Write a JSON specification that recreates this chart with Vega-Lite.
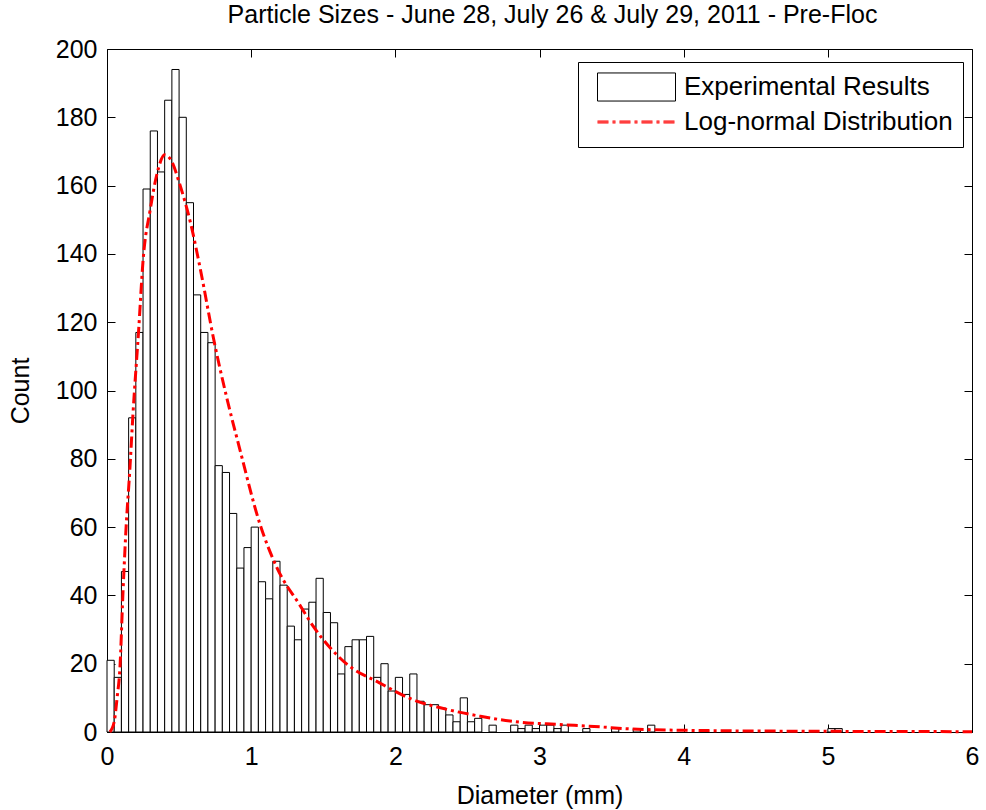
{
  "$schema": "https://vega.github.io/schema/vega-lite/v6.json",
  "width": 865,
  "height": 683,
  "autosize": {"type": "none"},
  "padding": {"left": 107, "top": 49, "right": 14, "bottom": 78},
  "background": "white",
  "title": {"text": "Particle Sizes - June 28, July 26 & July 29, 2011 - Pre-Floc", "fontSize": 25, "font": "Liberation Sans", "fontWeight": "normal", "color": "black", "offset": 9, "anchor": "middle", "dx": 13},
  "config": {
    "view": {"stroke": null},
    "font": "Liberation Sans",
    "axis": {"domainColor": "black", "domainWidth": 1, "tickColor": "black", "tickWidth": 1, "labelColor": "black", "titleColor": "black", "labelFontSize": 25, "titleFontSize": 25, "titleFontWeight": "normal", "grid": false, "tickSize": -8, "labelFont": "Liberation Sans", "titleFont": "Liberation Sans", "labelFlush": false, "labelOverlap": false},
    "legend": {
      "title": null,
      "orient": "none",
      "legendX": 471,
      "legendY": 13,
      "padding": 10,
      "strokeColor": "black",
      "fillColor": "white",
      "cornerRadius": 0,
      "labelFontSize": 26,
      "labelFont": "Liberation Sans",
      "labelColor": "black",
      "labelLimit": 500,
      "symbolSize": 6084,
      "clipHeight": 30,
      "rowPadding": 5,
      "labelOffset": 8,
      "symbolOffset": 9,
      "symbolStrokeWidth": 1,
      "symbolOpacity": 1
    }
  },
  "datasets": {
    "bars": [
      {"start": 0.00, "end": 0.05, "count": 21},
      {"start": 0.05, "end": 0.10, "count": 16},
      {"start": 0.10, "end": 0.15, "count": 47},
      {"start": 0.15, "end": 0.20, "count": 92},
      {"start": 0.20, "end": 0.25, "count": 117},
      {"start": 0.25, "end": 0.30, "count": 159},
      {"start": 0.30, "end": 0.35, "count": 176},
      {"start": 0.35, "end": 0.40, "count": 164},
      {"start": 0.40, "end": 0.45, "count": 185},
      {"start": 0.45, "end": 0.50, "count": 194},
      {"start": 0.50, "end": 0.55, "count": 180},
      {"start": 0.55, "end": 0.60, "count": 155},
      {"start": 0.60, "end": 0.65, "count": 128},
      {"start": 0.65, "end": 0.70, "count": 117},
      {"start": 0.70, "end": 0.75, "count": 114},
      {"start": 0.75, "end": 0.80, "count": 78},
      {"start": 0.80, "end": 0.85, "count": 76},
      {"start": 0.85, "end": 0.90, "count": 64},
      {"start": 0.90, "end": 0.95, "count": 48},
      {"start": 0.95, "end": 1.00, "count": 54},
      {"start": 1.00, "end": 1.05, "count": 60},
      {"start": 1.05, "end": 1.10, "count": 44},
      {"start": 1.10, "end": 1.15, "count": 39},
      {"start": 1.15, "end": 1.20, "count": 50},
      {"start": 1.20, "end": 1.25, "count": 43},
      {"start": 1.25, "end": 1.30, "count": 31},
      {"start": 1.30, "end": 1.35, "count": 27},
      {"start": 1.35, "end": 1.40, "count": 36},
      {"start": 1.40, "end": 1.45, "count": 38},
      {"start": 1.45, "end": 1.50, "count": 45},
      {"start": 1.50, "end": 1.55, "count": 35},
      {"start": 1.55, "end": 1.60, "count": 32},
      {"start": 1.60, "end": 1.65, "count": 17},
      {"start": 1.65, "end": 1.70, "count": 25},
      {"start": 1.70, "end": 1.75, "count": 27},
      {"start": 1.75, "end": 1.80, "count": 27},
      {"start": 1.80, "end": 1.85, "count": 28},
      {"start": 1.85, "end": 1.90, "count": 16},
      {"start": 1.90, "end": 1.95, "count": 20},
      {"start": 1.95, "end": 2.00, "count": 12},
      {"start": 2.00, "end": 2.05, "count": 16},
      {"start": 2.05, "end": 2.10, "count": 11},
      {"start": 2.10, "end": 2.15, "count": 17},
      {"start": 2.15, "end": 2.20, "count": 9},
      {"start": 2.20, "end": 2.25, "count": 8},
      {"start": 2.25, "end": 2.30, "count": 8},
      {"start": 2.30, "end": 2.35, "count": 7},
      {"start": 2.35, "end": 2.40, "count": 5},
      {"start": 2.40, "end": 2.45, "count": 3},
      {"start": 2.45, "end": 2.50, "count": 10},
      {"start": 2.50, "end": 2.55, "count": 3},
      {"start": 2.55, "end": 2.60, "count": 4},
      {"start": 2.65, "end": 2.70, "count": 2},
      {"start": 2.80, "end": 2.85, "count": 2},
      {"start": 2.85, "end": 2.90, "count": 1},
      {"start": 2.90, "end": 2.95, "count": 2},
      {"start": 2.95, "end": 3.00, "count": 1},
      {"start": 3.00, "end": 3.05, "count": 2},
      {"start": 3.05, "end": 3.10, "count": 2},
      {"start": 3.10, "end": 3.15, "count": 1},
      {"start": 3.15, "end": 3.20, "count": 2},
      {"start": 3.30, "end": 3.35, "count": 1},
      {"start": 3.50, "end": 3.55, "count": 1},
      {"start": 3.65, "end": 3.70, "count": 1},
      {"start": 3.75, "end": 3.80, "count": 2},
      {"start": 5.00, "end": 5.05, "count": 1},
      {"start": 5.05, "end": 5.10, "count": 1}
    ],
    "curve": [
      {"d": 0.02, "v": 0},
      {"d": 0.05, "v": 3},
      {"d": 0.07, "v": 10},
      {"d": 0.09, "v": 19},
      {"d": 0.11, "v": 40},
      {"d": 0.13, "v": 58},
      {"d": 0.16, "v": 78},
      {"d": 0.18, "v": 93},
      {"d": 0.22, "v": 118},
      {"d": 0.25, "v": 138},
      {"d": 0.30, "v": 153},
      {"d": 0.35, "v": 164},
      {"d": 0.40, "v": 169},
      {"d": 0.45, "v": 167},
      {"d": 0.50, "v": 161},
      {"d": 0.58, "v": 149},
      {"d": 0.65, "v": 135},
      {"d": 0.74, "v": 115},
      {"d": 0.83, "v": 98},
      {"d": 0.92, "v": 83},
      {"d": 1.06, "v": 61},
      {"d": 1.18, "v": 48},
      {"d": 1.34, "v": 37},
      {"d": 1.43, "v": 31},
      {"d": 1.66, "v": 20},
      {"d": 1.89, "v": 14.4},
      {"d": 2.12, "v": 9.5},
      {"d": 2.36, "v": 6.6},
      {"d": 2.59, "v": 4.6},
      {"d": 2.86, "v": 2.9},
      {"d": 3.14, "v": 2.2},
      {"d": 3.42, "v": 1.5},
      {"d": 3.63, "v": 0.9},
      {"d": 4.18, "v": 0.4},
      {"d": 5.0, "v": 0.2},
      {"d": 6.0, "v": 0.1}
    ]
  },
  "layer": [
    {
      "data": {"name": "bars"},
      "mark": {"type": "bar", "fill": "white", "strokeWidth": 1},
      "encoding": {
        "x": {"field": "start", "type": "quantitative", "scale": {"domain": [0, 6], "nice": false, "zero": false}, "axis": {"orient": "bottom", "title": "Diameter (mm)", "values": [0, 1, 2, 3, 4, 5, 6], "format": "d", "labelPadding": 20, "titlePadding": 14}},
        "x2": {"field": "end"},
        "y": {"field": "count", "type": "quantitative", "scale": {"domain": [0, 200], "nice": false}, "axis": {"orient": "left", "title": "Count", "values": [0, 20, 40, 60, 80, 100, 120, 140, 160, 180, 200], "labelPadding": 18, "titlePadding": 22}},
        "y2": {"datum": 0},
        "stroke": {
          "datum": "Experimental Results",
          "type": "nominal",
          "scale": {"domain": ["Experimental Results", "Log-normal Distribution"], "range": ["black", "#ff0000"]},
          "legend": {
            "symbolType": {"expr": "datum.value === 'Experimental Results' ? 'M-1,-0.36H1V0.36H-1Z' : 'M-1,-0.0256H-0.718M-1,0H-0.718M-1,0.0256H-0.718M-0.615,-0.0256H-0.538M-0.615,0H-0.538M-0.615,0.0256H-0.538M-0.436,-0.0256H-0.154M-0.436,0H-0.154M-0.436,0.0256H-0.154M-0.051,-0.0256H0.026M-0.051,0H0.026M-0.051,0.0256H0.026M0.128,-0.0256H0.41M0.128,0H0.41M0.128,0.0256H0.41M0.513,-0.0256H0.59M0.513,0H0.59M0.513,0.0256H0.59M0.692,-0.0256H0.974M0.692,0H0.974M0.692,0.0256H0.974'"},
            "symbolFillColor": {"expr": "datum.value === 'Experimental Results' ? 'white' : '#ff0000'"}
          }
        }
      }
    },
    {
      "data": {"name": "curve"},
      "mark": {"type": "line", "strokeWidth": 3, "strokeDash": [11, 4, 3, 4], "interpolate": "monotone"},
      "encoding": {
        "x": {"field": "d", "type": "quantitative", "axis": {"orient": "top", "labels": false, "title": null, "values": [0, 1, 2, 3, 4, 5, 6]}},
        "y": {"field": "v", "type": "quantitative", "axis": {"orient": "right", "labels": false, "title": null, "values": [0, 20, 40, 60, 80, 100, 120, 140, 160, 180, 200]}},
        "stroke": {
          "datum": "Log-normal Distribution",
          "type": "nominal",
          "legend": {
            "symbolType": {"expr": "datum.value === 'Experimental Results' ? 'M-1,-0.36H1V0.36H-1Z' : 'M-1,-0.0256H-0.718M-1,0H-0.718M-1,0.0256H-0.718M-0.615,-0.0256H-0.538M-0.615,0H-0.538M-0.615,0.0256H-0.538M-0.436,-0.0256H-0.154M-0.436,0H-0.154M-0.436,0.0256H-0.154M-0.051,-0.0256H0.026M-0.051,0H0.026M-0.051,0.0256H0.026M0.128,-0.0256H0.41M0.128,0H0.41M0.128,0.0256H0.41M0.513,-0.0256H0.59M0.513,0H0.59M0.513,0.0256H0.59M0.692,-0.0256H0.974M0.692,0H0.974M0.692,0.0256H0.974'"},
            "symbolFillColor": {"expr": "datum.value === 'Experimental Results' ? 'white' : '#ff0000'"}
          }
        }
      }
    }
  ]
}
